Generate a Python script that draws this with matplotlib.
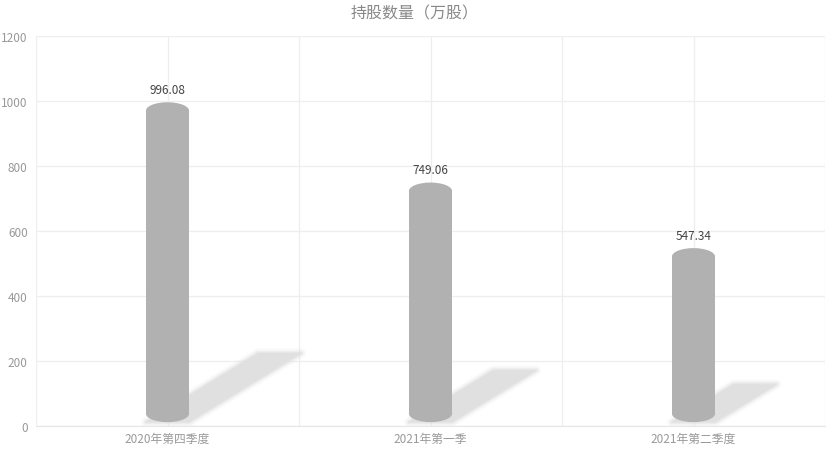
import matplotlib.pyplot as plt
import numpy as np
from matplotlib.patches import Ellipse, Polygon, Rectangle

plt.rcParams['font.family'] = ['Noto Sans CJK SC', 'DejaVu Sans']

# data
quarters = ["2020年第四季度", "2021年第一季", "2021年第二季度"]
holdings = [996.08, 749.06, 547.34]
y_ticks = [0, 200, 400, 600, 800, 1000, 1200]

BAR_COLOR = "#b0b1b0"
SHADOW_COLOR = "#e0e0e0"
GRID_COLOR = "#eeeeee"

fig = plt.figure(figsize=(8.3, 4.6), dpi=100)
ax = fig.add_axes([36 / 830, 33 / 460, 789 / 830, 390 / 460])

ax.set_xlim(-0.5, len(quarters) - 0.5)
ax.set_ylim(0, 1200)

# grid: horizontal at ticks, vertical at every half category
for y in y_ticks:
    ax.axhline(y, color=GRID_COLOR, lw=0.9, zorder=0)
for x in np.arange(-0.5, len(quarters), 0.5):
    ax.axvline(x, color=GRID_COLOR, lw=0.9, zorder=0)

bar_w = 0.164
cap_h = 52     # ellipse height in data units
base = 12      # bar bottom sits a bit above the axis

for i, v in enumerate(holdings):
    left = i - bar_w / 2
    right = i + bar_w / 2
    # shadow: bar footprint sheared up and to the right, soft edges
    dx = v * 0.000428
    dy = v * 0.213
    corners = [(left, base), (right, base), (right + dx, base + dy), (left + dx, base + dy)]
    for lw, a in [(7, 0.12), (5, 0.2), (3, 0.35), (1.5, 0.5)]:
        ax.add_patch(Polygon(corners, closed=True, facecolor='none', edgecolor=SHADOW_COLOR,
                             lw=lw, alpha=a, joinstyle='round', zorder=1))
    ax.add_patch(Polygon(corners, closed=True, facecolor=SHADOW_COLOR, edgecolor='none', zorder=1))

    # cylinder body
    ax.add_patch(Rectangle((left, base + cap_h / 2), bar_w, v - base - cap_h,
                           facecolor=BAR_COLOR, edgecolor='none', zorder=2))
    ax.add_patch(Ellipse((i, base + cap_h / 2), bar_w, cap_h,
                         facecolor=BAR_COLOR, edgecolor='none', zorder=2))
    ax.add_patch(Ellipse((i, v - cap_h / 2), bar_w, cap_h,
                         facecolor=BAR_COLOR, edgecolor='none', zorder=2))

    ax.text(i, v + 20, f"{v:.2f}", ha='center', va='bottom', fontsize=8.5, color='#444444', zorder=3)

ax.set_xticks(range(len(quarters)))
ax.set_xticklabels(quarters)
ax.set_yticks(y_ticks)
ax.tick_params(axis='both', length=0, labelsize=8.5, labelcolor='#999999')
ax.tick_params(axis='x', pad=4)
ax.tick_params(axis='y', pad=6)

for side in ['top', 'right', 'left']:
    ax.spines[side].set_visible(False)
ax.spines['bottom'].set_color('#e6e6e6')

fig.text(0.5, 1 - 14 / 460, "持股数量（万股）", ha='center', va='center', fontsize=11.5, color='#888888')

fig.savefig("out.png", dpi=100)
